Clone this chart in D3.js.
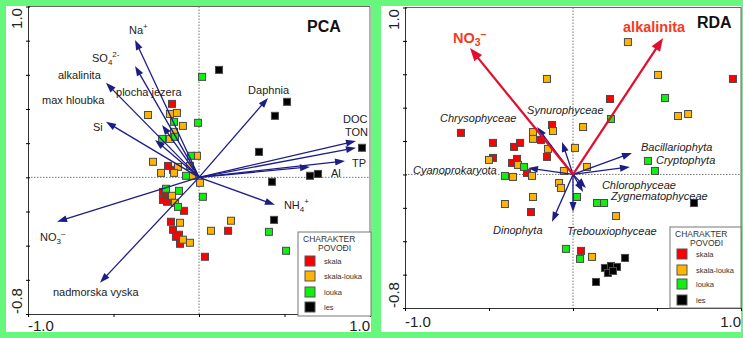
<!DOCTYPE html>
<html>
<head>
<meta charset="utf-8">
<script src="https://cdn.jsdelivr.net/npm/d3@7"></script>
<style>
  body { margin: 0; background: #66f77c; }
  svg { display: block; font-family: Arial, "Liberation Sans", sans-serif; }
</style>
</head>
<body>
<svg id="chart" width="743" height="338"></svg>
<script>
// groups (legend "CHARAKTER POVOĐI")
const groups = ['skala', 'skala-louka', 'louka', 'les'];
const groupColors = ['#ff0000', '#ffb400', '#11ee11', '#000000'];

// PCA sample scores [axis1, axis2]
const pcaSkala = [[-0.158,0.430],[-0.181,0.067],[-0.152,0.044],[-0.211,-0.085],[-0.193,-0.108],[-0.211,-0.132],
  [-0.187,-0.143],[-0.088,-0.196],[-0.164,-0.260],[-0.152,-0.307],[-0.117,-0.336],[-0.135,-0.348],[-0.111,-0.389],
  [0.170,-0.313],[0.035,-0.465]];
const pcaSkalaLouka = [[-0.129,0.377],[-0.170,0.371],[-0.298,0.365],[-0.094,0.301],[-0.146,0.266],[-0.170,0.225],
  [-0.269,0.091],[-0.053,0.067],[-0.123,0.061],[-0.222,0.026],[-0.146,0.026],[-0.041,0.009],[0.006,-0.032],
  [-0.158,-0.108],[-0.140,-0.149],[-0.111,-0.266],[-0.094,-0.365],[-0.053,-0.383],[0.070,-0.313],[0.187,-0.254],
  [-0.012,0.126]];
const pcaLouka = [[-0.146,0.325],[-0.216,0.225],[-0.140,0.237],[-0.006,0.319],[0.018,0.588],[-0.047,0.126],
  [-0.076,0.009],[-0.193,-0.067],[-0.117,-0.079],[-0.123,-0.173],[0.023,-0.114],[0.409,-0.319],[0.509,-0.430]];
const pcaLes = [[0.117,0.629],[0.515,0.442],[0.444,0.360],[0.351,0.149],[0.953,0.173],[0.427,-0.026],
  [0.649,0.009],[0.696,0.020],[0.439,-0.249]];

// PCA variable loadings
const pcaVarNames = ['Na^{+}', 'SO_{4}^{2-}', 'alkalinita', 'plocha jezera', 'max hloubka', 'Si', 'Daphnia',
  'DOC', 'TON', 'TP', 'Al', 'NH_{4}^{+}', 'NO_{3}^{–}', 'nadmorska vyska'];
const pcaVarX = [-0.374, -0.374, -0.544, -0.216, -0.257, -0.544, 0.404, 0.918, 0.918, 0.854, 0.649, 0.444, -0.830, -0.579];
const pcaVarY = [0.804, 0.652, 0.553, 0.307, 0.219, 0.325, 0.465, 0.213, 0.173, 0.096, 0.061, -0.161, -0.260, -0.617];

// RDA sample scores
const rdaSkala = [[-0.667,0.249],[-0.476,0.189],[-0.351,0.165],[-0.315,0.189],[-0.476,0.099],[-0.125,0.296],
  [-0.190,0.207],[-0.155,0.105],[-0.363,0.069],[-0.333,0.093],[-0.274,0.009],[-0.250,-0.225],[0.220,0.452],
  [0.952,0.572],[0.048,-0.458]];
const rdaSkalaLouka = [[-0.155,0.572],[-0.500,0.087],[-0.238,0.254],[-0.238,0.213],[-0.119,0.260],[-0.149,0.153],
  [-0.327,0.057],[-0.244,-0.009],[-0.054,0.021],[-0.357,-0.015],[-0.083,-0.051],[-0.071,-0.081],[-0.238,-0.135],
  [-0.405,-0.177],[0.327,0.793],[0.506,0.596],[0.625,0.350],[0.685,0.362],[0.060,0.284],[0.012,0.159],
  [0.083,0.045],[0.256,-0.249],[0.113,-0.494]];
const rdaLouka = [[-0.292,0.045],[-0.405,-0.009],[0.548,0.458],[0.226,0.332],[0.446,0.081],[0.488,0.021],
  [0.024,-0.135],[0.143,-0.171],[0.185,-0.171],[-0.042,-0.446],[0.042,-0.506]];
const rdaLes = [[0.720,-0.171],[0.310,-0.500],[0.190,-0.560],[0.226,-0.548],[0.262,-0.554],[0.208,-0.590],
  [0.238,-0.578],[0.137,-0.644]];

// RDA explanatory variables (red) and species (blue)
const rdaEnvNames = ['NO_{3}^{–}', 'alkalinita'];
const rdaEnvX = [-0.613, 0.536];
const rdaEnvY = [0.757, 0.817];
const rdaSpNames = ['Chrysophyceae', 'Synurophyceae', 'Cyanoprokaryota', 'Bacillariophyta', 'Cryptophyta',
  'Chlorophyceae', 'Zygnematophyceae', 'Trebouxiophyceae', 'Dinophyta'];
const rdaSpX = [-0.214, -0.065, -0.268, 0.351, 0.339, 0.077, 0.060, 0.0, -0.125];
const rdaSpY = [0.284, 0.195, 0.039, 0.129, 0.045, -0.081, -0.105, -0.225, -0.284];

const yTicks = [-0.8, -0.6, -0.4, -0.2, 0, 0.2, 0.4, 0.6, 0.8, 1.0];
const xTicks = [-1, -0.5, 0, 0.5, 1];

const svg = d3.select('#chart');
const navy = '#1d1d86';

// label offsets from arrow tips, px
const pcaLabelOff = {
  'Na^{+}': [-6, -6], 'SO_{4}^{2-}': [-43, -4], 'alkalinita': [-48, -4], 'plocha jezera': [-46, -29],
  'max hloubka': [-113, -36], 'Si': [-13, 9], 'Daphnia': [-20, -4], 'DOC': [-13, -18], 'TON': [-11, -12],
  'TP': [7, 6], 'Al': [21, 10], 'NH_{4}^{+}': [9, 4], 'NO_{3}^{–}': [-17, 19], 'nadmorska vyska': [-47, 13]
};
const rdaLabelOff = {
  'NO_{3}^{–}': [-17, -5], 'alkalinita': [-40, -6],
  'Chrysophyceae': [-97, -5], 'Synurophyceae': [-35, -28], 'Cyanoprokaryota': [-115, 6],
  'Bacillariophyta': [9, -2], 'Cryptophyta': [26, -3], 'Chlorophyceae': [16, 1], 'Zygnematophyceae': [28, 8],
  'Trebouxiophyceae': [-6, 23], 'Dinophyta': [-59, 12]
};

function richText(text, str) {
  const parts = str.split(/(_\{[^}]*\}|\^\{[^}]*\})/).filter(s => s.length);
  let shift = 0;
  parts.forEach(p => {
    let target = 0, t = p, small = false;
    if (p.startsWith('_{')) { target = 3; t = p.slice(2, -1); small = true; }
    else if (p.startsWith('^{')) { target = -5; t = p.slice(2, -1); small = true; }
    const ts = text.append('tspan').attr('dy', target - shift).text(t);
    if (small) ts.attr('font-size', '0.72em');
    shift = target;
  });
}

function drawArrow(g, x0, y0, x1, y1, color, width, headLen, headW) {
  const a = Math.atan2(y1 - y0, x1 - x0);
  const bx = x1 - Math.cos(a) * headLen, by = y1 - Math.sin(a) * headLen;
  g.append('line')
    .attr('x1', x0).attr('y1', y0)
    .attr('x2', x1 - Math.cos(a) * headLen * 0.6).attr('y2', y1 - Math.sin(a) * headLen * 0.6)
    .attr('stroke', color).attr('stroke-width', width);
  const nx = -Math.sin(a) * headW / 2, ny = Math.cos(a) * headW / 2;
  g.append('polygon')
    .attr('points', [[x1, y1], [bx + nx, by + ny], [bx - nx, by - ny]].map(p => p.join(',')).join(' '))
    .attr('fill', color);
}

function drawPanel(cfg) {
  const x = d3.scaleLinear().domain([-1, 1]).range(cfg.xRange);
  const y = d3.scaleLinear().domain([-0.8, 1]).range(cfg.yRange);
  const g = svg.append('g');

  g.append('rect').attr('x', cfg.panel[0]).attr('y', cfg.panel[1])
    .attr('width', cfg.panel[2]).attr('height', cfg.panel[3]).attr('fill', '#fff');

  // frame top / right
  g.append('path')
    .attr('d', `M${x(-1)},${y(1)}H${x(1)}V${y(-0.8)}`)
    .attr('fill', 'none').attr('stroke', '#666').attr('stroke-width', 1);

  // zero lines
  g.append('line').attr('x1', x(0)).attr('x2', x(0)).attr('y1', y(1)).attr('y2', y(-0.8))
    .attr('stroke', '#777').attr('stroke-dasharray', '1.5,1.5');
  g.append('line').attr('x1', x(-1)).attr('x2', x(1)).attr('y1', y(0)).attr('y2', y(0))
    .attr('stroke', '#777').attr('stroke-dasharray', '1.5,1.5');

  g.append('g')
    .attr('transform', `translate(${x(-1)},0)`)
    .call(d3.axisLeft(y).tickValues(yTicks).tickFormat('').tickSizeOuter(0))
    .call(a => a.selectAll('.tick line').attr('x1', 2).attr('x2', -2))
    .call(a => a.select('.domain').attr('stroke', '#333'));

  g.append('g')
    .attr('transform', `translate(0,${y(-0.8)})`)
    .call(d3.axisBottom(x).tickValues(xTicks).tickFormat('').tickSize(3).tickSizeOuter(0))
    .call(a => a.select('.domain').attr('stroke', '#333'));

  // axis end labels
  g.append('text').attr('transform', `translate(${x(-1) - 6},${y(1) + 12}) rotate(-90)`)
    .attr('text-anchor', 'middle').attr('font-size', 15).attr('fill', '#222').text('1.0');
  g.append('text').attr('transform', `translate(${x(-1) - 6},${y(-0.8) - 13}) rotate(-90)`)
    .attr('text-anchor', 'middle').attr('font-size', 15).attr('fill', '#222').text('-0.8');
  g.append('text').attr('x', x(-1)).attr('y', cfg.xLabelY)
    .attr('font-size', 15).attr('fill', '#222').text('-1.0');
  g.append('text').attr('x', x(1)).attr('y', cfg.xLabelY)
    .attr('text-anchor', 'end').attr('font-size', 15).attr('fill', '#222').text('1.0');

  g.append('text').attr('x', cfg.titlePos[0]).attr('y', cfg.titlePos[1])
    .attr('font-size', 16).attr('font-weight', 'bold').attr('fill', '#111').text(cfg.title);

  // sample squares
  cfg.points.forEach((pts, i) => {
    g.append('g').selectAll('rect').data(pts).join('rect')
      .attr('x', d => x(d[0]) - 3.5).attr('y', d => y(d[1]) - 3.5)
      .attr('width', 7).attr('height', 7)
      .attr('fill', groupColors[i]).attr('stroke', '#4a4a4a').attr('stroke-width', 1);
  });

  cfg.arrows.forEach(set => {
    set.names.forEach((name, i) => {
      const tx = x(set.xs[i]), ty = y(set.ys[i]);
      drawArrow(g, x(0), y(0), tx, ty, set.color, set.width, set.headLen, set.headW);
      const off = cfg.labelOff[name];
      const t = g.append('text').attr('x', tx + off[0]).attr('y', ty + off[1])
        .attr('font-size', set.fontSize).attr('fill', set.textColor)
        .attr('font-weight', set.bold ? 'bold' : null)
        .attr('font-style', set.italic ? 'italic' : null);
      richText(t, name);
    });
  });

  // legend
  const lg = g.append('g').attr('transform', `translate(${cfg.legend[0]},${cfg.legend[1]})`);
  lg.append('rect').attr('width', cfg.legend[2]).attr('height', cfg.legend[3])
    .attr('fill', '#fff').attr('stroke', '#777');
  const narrow = '"Liberation Sans Narrow", "Arial Narrow", Arial, sans-serif';
  lg.append('text').attr('x', 5).attr('y', 10).attr('font-size', 8.5).attr('font-family', narrow)
    .attr('fill', '#333').text('CHARAKTER');
  lg.append('text').attr('x', 20).attr('y', 19).attr('font-size', 8.5).attr('font-family', narrow)
    .attr('fill', '#333').text('POVOĐI');
  groups.forEach((name, i) => {
    const cy = cfg.legendRows[i];
    lg.append('rect').attr('x', 7).attr('y', cy - 5).attr('width', 10).attr('height', 10)
      .attr('fill', groupColors[i]).attr('stroke', '#555');
    lg.append('text').attr('x', 26).attr('y', cy + 2.5).attr('font-size', 7.5)
      .attr('fill', '#333').text(name);
  });
}

drawPanel({
  panel: [6, 6, 365, 326],
  xRange: [28, 370], yRange: [314, 6.5],
  xLabelY: 331, title: 'PCA', titlePos: [307, 32],
  points: [pcaSkala, pcaSkalaLouka, pcaLouka, pcaLes],
  arrows: [{names: pcaVarNames, xs: pcaVarX, ys: pcaVarY, color: navy, width: 1.3, headLen: 10, headW: 7,
    fontSize: 11, textColor: '#222'}],
  labelOff: pcaLabelOff,
  legend: [298, 232, 73, 84], legendRows: [29, 44, 60, 75]
});

drawPanel({
  panel: [381, 6, 360, 326],
  xRange: [405, 741], yRange: [308, 7.5],
  xLabelY: 327, title: 'RDA', titlePos: [697, 28],
  points: [rdaSkala, rdaSkalaLouka, rdaLouka, rdaLes],
  arrows: [
    {names: rdaSpNames, xs: rdaSpX, ys: rdaSpY, color: navy, width: 1.3, headLen: 10, headW: 7,
      fontSize: 11, textColor: '#222', italic: true},
    {names: rdaEnvNames, xs: rdaEnvX, ys: rdaEnvY, color: '#e30d2d', width: 2.2, headLen: 13, headW: 10,
      fontSize: 14.5, textColor: '#f53b1e', bold: true}
  ],
  labelOff: rdaLabelOff,
  legend: [670, 227, 71, 81], legendRows: [27, 43, 57, 73]
});
</script>
</body>
</html>
